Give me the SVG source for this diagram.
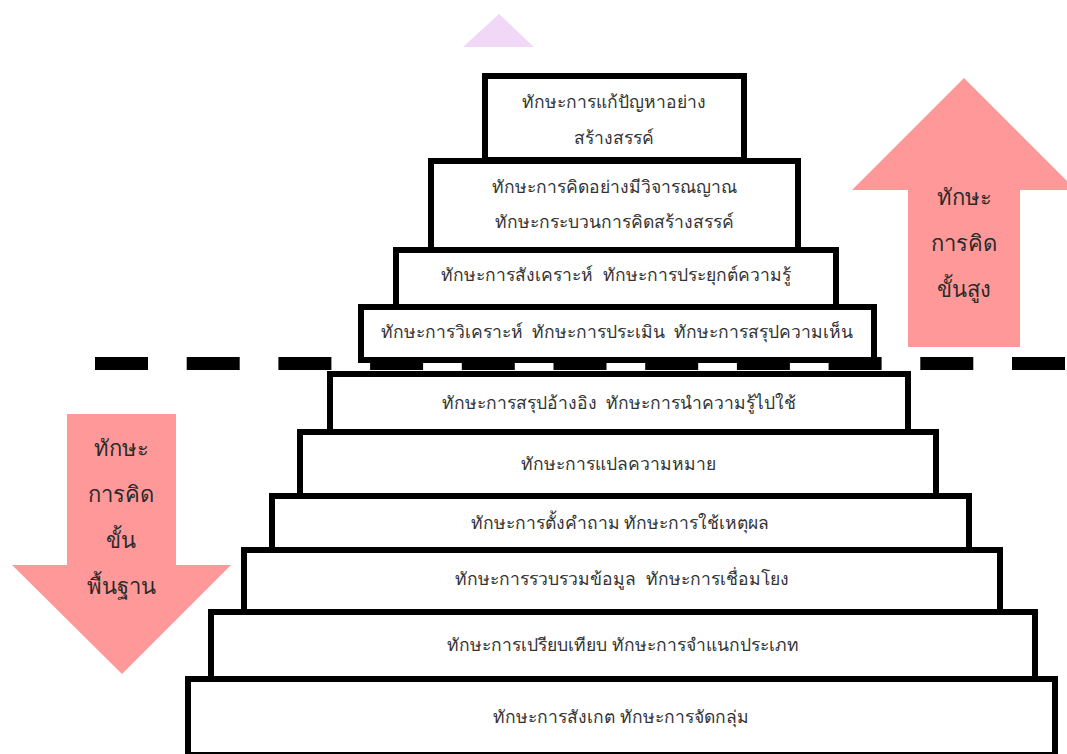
<svg xmlns="http://www.w3.org/2000/svg" width="1067" height="754" viewBox="0 0 1067 754">
<style>
.box{fill:#fff;stroke:#000;stroke-width:6}
.t{font-family:"Noto Sans","DejaVu Sans",sans-serif;font-size:17.5px;font-weight:normal;fill:#333;text-anchor:middle;dominant-baseline:central;white-space:pre}
.at{font-family:"Noto Sans","DejaVu Sans",sans-serif;font-size:22px;font-weight:normal;fill:#2a2a2a;text-anchor:middle;dominant-baseline:central}
.arrow{fill:#FF9999}
</style>
<rect width="1067" height="754" fill="#fff"/>
<polygon points="499,14 534,47 463,47" fill="#F0D8F6"/>
<g id="arrow-up">
<polygon class="arrow" points="964,78 1076,190 1020,190 1020,347 908,347 908,190 852,190"/>
<text class="at" x="964" y="196">ทักษะ</text>
<text class="at" x="964" y="242">การคิด</text>
<text class="at" x="964" y="288">ขั้นสูง</text>
</g>
<g id="arrow-down">
<polygon class="arrow" points="67,414 176,414 176,565 231,565 122,674 12,565 67,565"/>
<text class="at" x="121" y="447">ทักษะ</text>
<text class="at" x="121" y="493">การคิด</text>
<text class="at" x="121" y="539">ขั้น</text>
<text class="at" x="121" y="585">พื้นฐาน</text>
</g>
<g id="box1"><rect class="box" x="485" y="76" width="259" height="84"/>
<text class="t" x="614" y="101">ทักษะการแก้ปัญหาอย่าง</text>
<text class="t" x="614" y="137">สร้างสรรค์</text></g>
<g id="box2"><rect class="box" x="431" y="161" width="367" height="89"/>
<text class="t" x="614" y="186">ทักษะการคิดอย่างมีวิจารณญาณ</text>
<text class="t" x="614" y="221">ทักษะกระบวนการคิดสร้างสรรค์</text></g>
<g id="box3"><rect class="box" x="396" y="250" width="440" height="57"/>
<text class="t" x="616" y="274" xml:space="preserve">ทักษะการสังเคราะห์  ทักษะการประยุกต์ความรู้</text></g>
<g id="box4"><rect class="box" x="361" y="307" width="513" height="53"/>
<text class="t" x="617" y="331" xml:space="preserve">ทักษะการวิเคราะห์  ทักษะการประเมิน  ทักษะการสรุปความเห็น</text></g>
<g id="box5"><rect class="box" x="330" y="374" width="578" height="58"/>
<text class="t" x="619" y="402" xml:space="preserve">ทักษะการสรุปอ้างอิง  ทักษะการนำความรู้ไปใช้</text></g>
<g id="box6"><rect class="box" x="300" y="432" width="636" height="64"/>
<text class="t" x="618" y="463">ทักษะการแปลความหมาย</text></g>
<g id="box7"><rect class="box" x="272" y="496" width="697" height="54"/>
<text class="t" x="620" y="522">ทักษะการตั้งคำถาม ทักษะการใช้เหตุผล</text></g>
<g id="box8"><rect class="box" x="244" y="550" width="756" height="62"/>
<text class="t" x="622" y="578" xml:space="preserve">ทักษะการรวบรวมข้อมูล  ทักษะการเชื่อมโยง</text></g>
<g id="box9"><rect class="box" x="211" y="612" width="824" height="67"/>
<text class="t" x="623" y="644">ทักษะการเปรียบเทียบ ทักษะการจำแนกประเภท</text></g>
<g id="box10"><rect class="box" x="188" y="679" width="867" height="76"/>
<text class="t" x="621" y="716">ทักษะการสังเกต ทักษะการจัดกลุ่ม</text></g>
<g id="connectors">
<line x1="95" y1="363.5" x2="1067" y2="363.5" stroke="#000" stroke-width="13" stroke-dasharray="53 38.7"/>
</g>
</svg>
